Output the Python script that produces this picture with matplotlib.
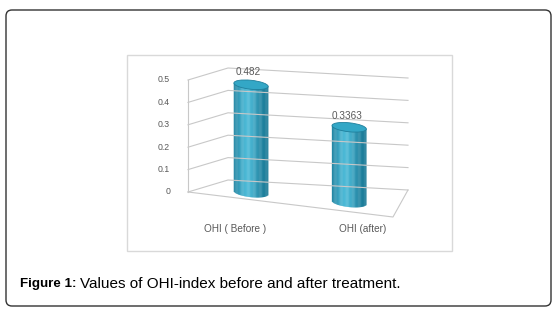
import numpy as np
import matplotlib
matplotlib.use("Agg")
import matplotlib.pyplot as plt
from matplotlib.patches import FancyBboxPatch, Rectangle, Ellipse
from matplotlib.transforms import Affine2D

# data
categories = ["OHI ( Before )", "OHI (after)"]
values = [0.482, 0.3363]
value_labels = ["0.482", "0.3363"]
zticks = [0, 0.1, 0.2, 0.3, 0.4, 0.5]
ztick_labels = ["0", "0.1", "0.2", "0.3", "0.4", "0.5"]

plt.rcParams['font.family'] = ['Liberation Sans', 'DejaVu Sans']

W, H = 557, 311
fig = plt.figure(figsize=(W / 100, H / 100), dpi=100)
# pixel-space axes (y down) that holds the 3-D looking chart
ax = fig.add_axes([0, 0, 1, 1])
ax.axis("off")

# outer rounded border and chart frame
ax.add_patch(FancyBboxPatch((6, 10), 545, 296, boxstyle="round,pad=0,rounding_size=6",
                            fill=False, edgecolor="#333333", linewidth=1.0))
ax.add_patch(Rectangle((127, 55), 325, 196, fill=False, edgecolor="#d9d9d9", linewidth=1.0))

ax.text(20, 284, "Figure 1:", fontsize=9.6, fontweight="bold", va="center", ha="left")
ax.text(80, 284, "Values of OHI-index before and after treatment.", fontsize=11.0,
        va="center", ha="left")

# oblique/perspective projection of (category, value, depth) -> pixels
O_front, U_front = np.array([239.25, 198.25]), np.array([102.5, 12.5])
O_back, U_back = np.array([273.0, 182.5]), np.array([90.0, 5.0])
Uz = np.array([0.0, -224.0])


def P(x, z, d):
    o = O_front + d * (O_back - O_front)
    u = U_front + d * (U_back - U_front)
    return o + x * u + z * Uz


def plane(d):
    o = O_front + d * (O_back - O_front)
    u = U_front + d * (U_back - U_front)
    return Affine2D(np.array([[u[0], Uz[0], o[0]], [u[1], Uz[1], o[1]], [0, 0, 1]])) + ax.transData


x0, x1 = -0.5, 1.5
grid = "#c8c8c8"
for z in zticks:
    pts = np.array([P(x0, z, 0), P(x0, z, 1), P(x1, z, 1)])
    ax.plot(pts[:, 0], pts[:, 1], color=grid, lw=0.8)
pts = np.array([P(x0, 0, 0), P(x0, zticks[-1], 0)])
ax.plot(pts[:, 0], pts[:, 1], color=grid, lw=0.8)
pts = np.array([P(x0, 0, 0), P(x1, 0, 0), P(x1, 0, 1)])
ax.plot(pts[:, 0], pts[:, 1], color=grid, lw=0.8)

txt = "#595959"
for z, lab in zip(zticks, ztick_labels):
    px, py = P(x0, z, 0)
    ax.text(px - 18, py, lab, fontsize=6.3, color=txt, ha="right", va="center")

# cylinders: vertical shaded strips on a plane a bit in front of the middle
bar_depth = 0.35
tr = plane(bar_depth)
r = 0.175
h = 9 / 224
n = 40
u = (np.arange(n) + 0.5) / n * 2 - 1          # -1 .. 1 across the cylinder
k = np.exp(-((u + 0.2) / 0.65) ** 2)
dark = np.array([0x18, 0x78, 0x95]) / 255
light = np.array([0x4c, 0xb9, 0xd6]) / 255
cols = dark[None, :] + (light - dark)[None, :] * k[:, None]
sag = (h / 2) * np.sqrt(1 - u ** 2)           # bottom rim of the cylinder

for i, v in enumerate(values):
    ax.bar(i + u * r, v + sag, width=2 * r / n * 1.4, bottom=-sag, transform=tr,
           color=cols, linewidth=0)
    ax.add_patch(Ellipse((i, v), 2 * r, h, transform=tr, facecolor="#33a7c6",
                         edgecolor="#1f7f9c", linewidth=0.6))
    px, py = P(i, v, 0.25)
    ax.text(px, py - 9, value_labels[i], fontsize=7.2, color=txt,
            ha="center", va="bottom")

# category labels under the floor
for i, cat in enumerate(categories):
    ax.text(235 + 128 * i, 229, cat, fontsize=7.2, color=txt, ha="center", va="center")

ax.set_xlim(0, W)
ax.set_ylim(H, 0)
fig.savefig("out.png", dpi=100)
